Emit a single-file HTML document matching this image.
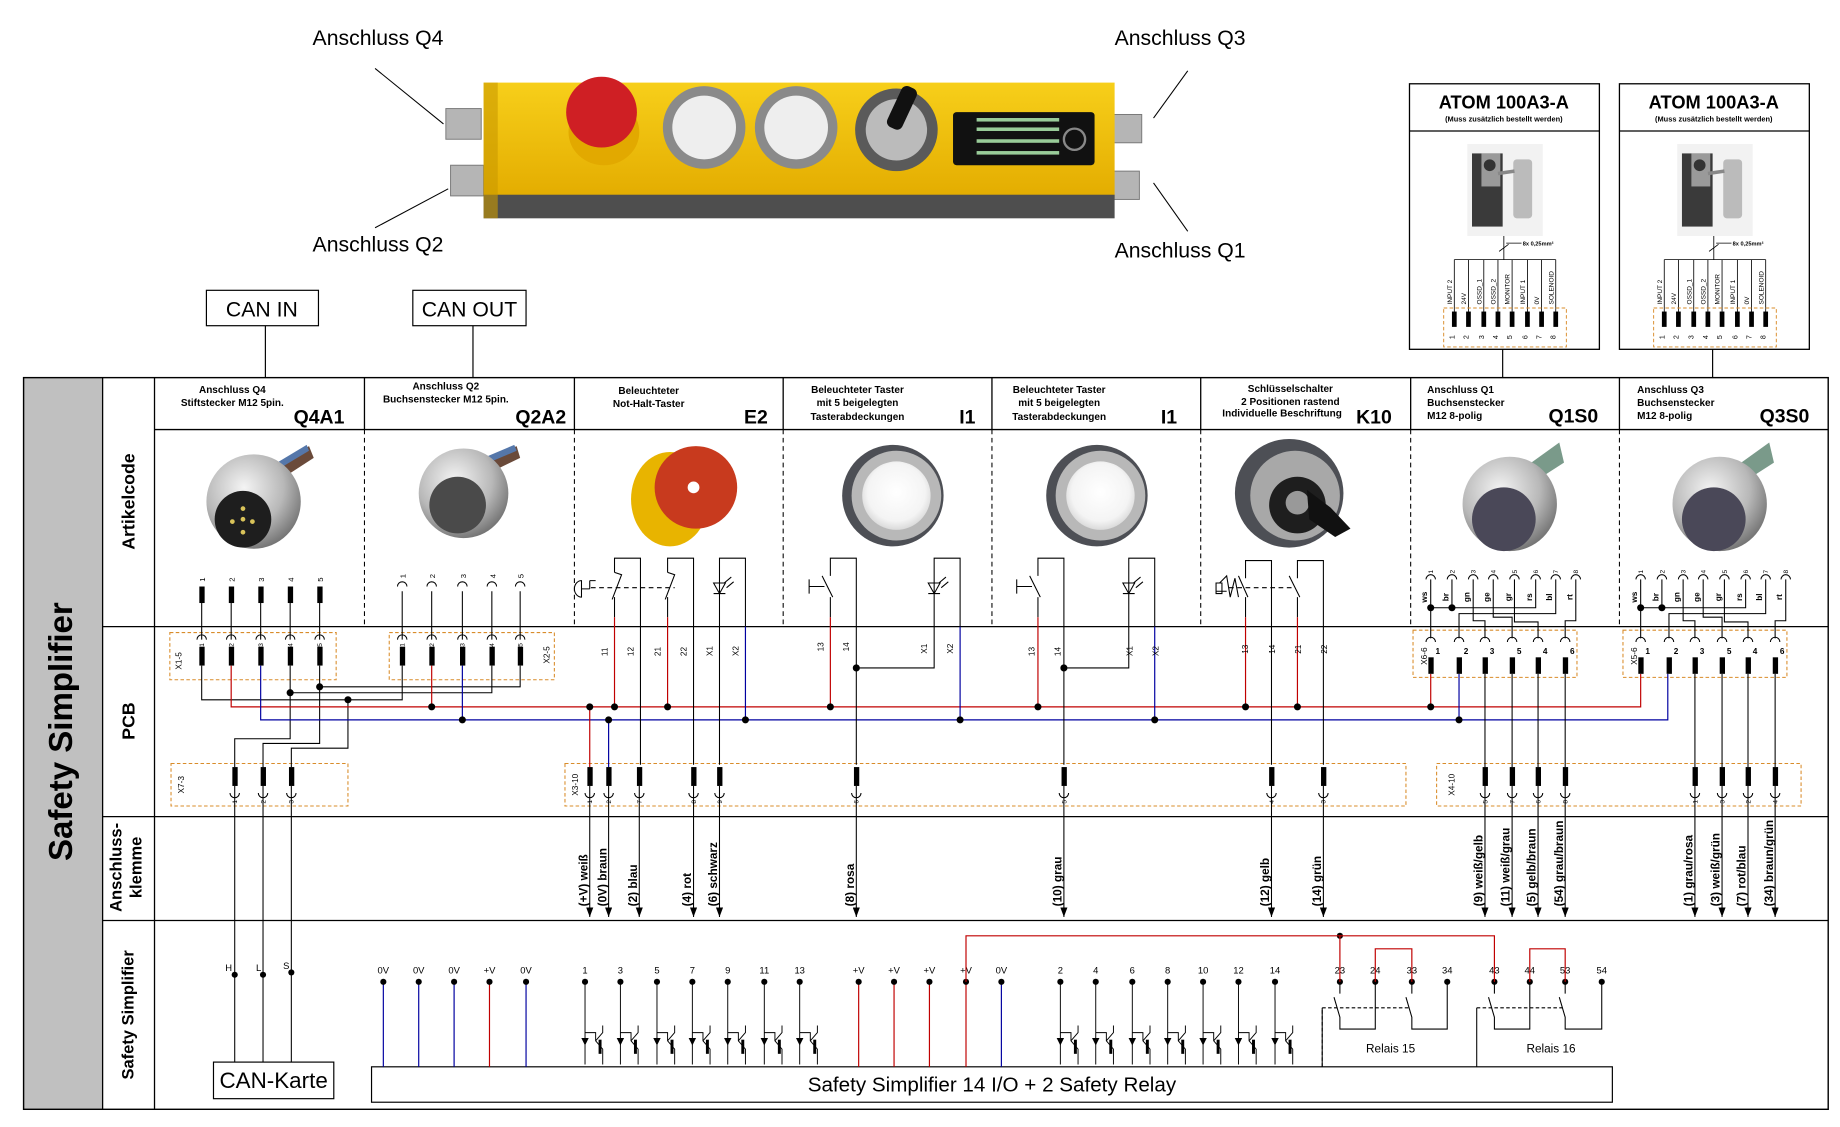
<!DOCTYPE html>
<html><head><meta charset="utf-8"><style>
html,body{margin:0;padding:0;background:#fff}
svg{display:block}
text{font-family:"Liberation Sans",Arial,sans-serif}
</style></head><body>
<svg width="1840" height="1127" viewBox="0 0 1560 955" preserveAspectRatio="none" xmlns="http://www.w3.org/2000/svg">
<defs>
<radialGradient id="silver" cx="40%" cy="35%" r="70%"><stop offset="0" stop-color="#f4f4f4"/><stop offset="0.6" stop-color="#b8b8b8"/><stop offset="1" stop-color="#6e6e6e"/></radialGradient>
<radialGradient id="whiteb" cx="50%" cy="45%" r="60%"><stop offset="0" stop-color="#fff"/><stop offset="0.7" stop-color="#f4f4f4"/><stop offset="1" stop-color="#d0d0d0"/></radialGradient>
<linearGradient id="yel" x1="0" y1="0" x2="0" y2="1"><stop offset="0" stop-color="#f7cf1a"/><stop offset="1" stop-color="#e3ac00"/></linearGradient>
<marker id="ar" markerWidth="6" markerHeight="8" refX="3" refY="8" orient="0" markerUnits="userSpaceOnUse"><path d="M0,0 L6,0 L3,8 Z" fill="#000"/></marker>
<g id="tr" fill="none" stroke="#000" stroke-width="0.8">
<path d="M0,828 V898 M0,871 H9 V878 L15,885 V898 M9,878 L15,871 V865"/>
<path d="M-2.5,876 L2.5,876 L0,881 Z" fill="#000"/>
<rect x="11.5" y="877" width="2.5" height="12" fill="#000" stroke="none"/>
</g>
<path id="skd" d="M-4,0 A4,4 0 0 1 4,0" fill="none" stroke="#000" stroke-width="0.9"/>
</defs>

<g font-size="18" fill="#000">
<text x="265" y="38">Anschluss Q4</text>
<text x="265" y="213">Anschluss Q2</text>
<text x="945" y="38">Anschluss Q3</text>
<text x="945" y="218">Anschluss Q1</text>
</g>
<g stroke="#000" stroke-width="0.9">
<line x1="318" y1="58" x2="376" y2="105"/>
<line x1="318" y1="193" x2="380" y2="160"/>
<line x1="1007" y1="60" x2="978" y2="100"/>
<line x1="1007" y1="196" x2="978" y2="155"/>
</g>
<rect x="378" y="92" width="30" height="26" fill="#b5b5b5" stroke="#777" stroke-width="0.8"/>
<rect x="382" y="140" width="28" height="26" fill="#b5b5b5" stroke="#777" stroke-width="0.8"/>
<rect x="940" y="97" width="28" height="24" fill="#b5b5b5" stroke="#777" stroke-width="0.8"/>
<rect x="940" y="145" width="26" height="24" fill="#b5b5b5" stroke="#777" stroke-width="0.8"/>
<rect x="410" y="70" width="535" height="98" fill="url(#yel)"/>
<rect x="410" y="165" width="535" height="20" fill="#4e4e4e"/>
<rect x="410" y="70" width="12" height="115" fill="#c99a00" opacity="0.6"/>
<ellipse cx="512" cy="112" rx="30" ry="28" fill="#e2a900"/>
<circle cx="510" cy="95" r="30" fill="#cf1f24"/>
<circle cx="597" cy="108" r="35" fill="#8a8a8a"/><circle cx="597" cy="108" r="27" fill="#eee"/>
<circle cx="675" cy="108" r="35" fill="#8a8a8a"/><circle cx="675" cy="108" r="27" fill="#eee"/>
<circle cx="760" cy="110" r="35" fill="#5a5a5a"/><circle cx="760" cy="110" r="26" fill="#bbb"/>
<rect x="756" y="72" width="14" height="38" rx="5" fill="#111" transform="rotate(25 763 95)"/>
<rect x="808" y="95" width="120" height="45" rx="3" fill="#111"/>
<g fill="#9c9"><rect x="828" y="100" width="70" height="3"/><rect x="828" y="108" width="70" height="3"/><rect x="828" y="118" width="70" height="3"/><rect x="828" y="128" width="70" height="3"/></g>
<circle cx="911" cy="118" r="9" fill="none" stroke="#888" stroke-width="2"/>

<rect x="175" y="246" width="95" height="30" fill="#fff" stroke="#000"/>
<text x="222" y="268" font-size="18" text-anchor="middle">CAN IN</text>
<rect x="350" y="246" width="96" height="30" fill="#fff" stroke="#000"/>
<text x="398" y="268" font-size="18" text-anchor="middle">CAN OUT</text>
<line x1="225" y1="276" x2="225" y2="320" stroke="#000"/>
<line x1="401" y1="276" x2="401" y2="320" stroke="#000"/>

<g id="atom">
<rect x="1195" y="71" width="161" height="225" fill="#fff" stroke="#000" stroke-width="1.1"/>
<line x1="1195" y1="111" x2="1356" y2="111" stroke="#000"/>
<text x="1275" y="92" font-size="15.5" font-weight="bold" text-anchor="middle">ATOM 100A3-A</text>
<text x="1275" y="103" font-size="6.3" font-weight="bold" text-anchor="middle">(Muss zusätzlich bestellt werden)</text>
<rect x="1244" y="122" width="64" height="78" fill="#f2f2f2"/>
<rect x="1248" y="130" width="26" height="62" fill="#3a3a3a"/>
<rect x="1256" y="130" width="16" height="28" fill="#9a9a9a"/>
<circle cx="1263" cy="140" r="5" fill="#333"/>
<rect x="1283" y="135" width="16" height="50" rx="3" fill="#bbb"/>
<line x1="1270" y1="147" x2="1284" y2="145" stroke="#888" stroke-width="3"/>
<path d="M1275,200 V220 M1271,213 L1279,207 M1277,206 H1290" fill="none" stroke="#000" stroke-width="0.7"/>
<text x="1291" y="208" font-size="4.8" font-weight="bold">8x 0,25mm²</text>
<g fill="none" stroke="#000" stroke-width="0.7">
<path d="M1233,220 H1319 M1233,220 V265 M1245,220 V265 M1258,220 V265 M1270,220 V265 M1282,220 V265 M1295,220 V265 M1307,220 V265 M1319,220 V265"/>
</g>
<rect x="1224" y="261" width="104" height="33" fill="none" stroke="#d98c2a" stroke-width="0.8" stroke-dasharray="3,2"/>
<g fill="#000"><rect x="1231" y="264" width="4" height="13"/><rect x="1243" y="264" width="4" height="13"/><rect x="1256" y="264" width="4" height="13"/><rect x="1268" y="264" width="4" height="13"/><rect x="1280" y="264" width="4" height="13"/><rect x="1293" y="264" width="4" height="13"/><rect x="1305" y="264" width="4" height="13"/><rect x="1317" y="264" width="4" height="13"/></g>
<g font-size="6" fill="#000">
<text transform="translate(1233,284) rotate(-90)" text-anchor="end">1</text><text transform="translate(1245,284) rotate(-90)" text-anchor="end">2</text><text transform="translate(1258,284) rotate(-90)" text-anchor="end">3</text><text transform="translate(1270,284) rotate(-90)" text-anchor="end">4</text><text transform="translate(1282,284) rotate(-90)" text-anchor="end">5</text><text transform="translate(1295,284) rotate(-90)" text-anchor="end">6</text><text transform="translate(1307,284) rotate(-90)" text-anchor="end">7</text><text transform="translate(1319,284) rotate(-90)" text-anchor="end">8</text>
</g>
<g font-size="5.5" fill="#000">
<text transform="translate(1231,258) rotate(-90)">INPUT 2</text><text transform="translate(1243,258) rotate(-90)">24V</text><text transform="translate(1256,258) rotate(-90)">OSSD_1</text><text transform="translate(1268,258) rotate(-90)">OSSD_2</text><text transform="translate(1280,258) rotate(-90)">MONITOR</text><text transform="translate(1293,258) rotate(-90)">INPUT 1</text><text transform="translate(1305,258) rotate(-90)">0V</text><text transform="translate(1317,258) rotate(-90)">SOLENOID</text>
</g>
<line x1="1274" y1="296" x2="1274" y2="320" stroke="#000"/>
</g>
<g transform="translate(178,0)">
<rect x="1195" y="71" width="161" height="225" fill="#fff" stroke="#000" stroke-width="1.1"/>
<line x1="1195" y1="111" x2="1356" y2="111" stroke="#000"/>
<text x="1275" y="92" font-size="15.5" font-weight="bold" text-anchor="middle">ATOM 100A3-A</text>
<text x="1275" y="103" font-size="6.3" font-weight="bold" text-anchor="middle">(Muss zusätzlich bestellt werden)</text>
<rect x="1244" y="122" width="64" height="78" fill="#f2f2f2"/>
<rect x="1248" y="130" width="26" height="62" fill="#3a3a3a"/>
<rect x="1256" y="130" width="16" height="28" fill="#9a9a9a"/>
<circle cx="1263" cy="140" r="5" fill="#333"/>
<rect x="1283" y="135" width="16" height="50" rx="3" fill="#bbb"/>
<line x1="1270" y1="147" x2="1284" y2="145" stroke="#888" stroke-width="3"/>
<path d="M1275,200 V220 M1271,213 L1279,207 M1277,206 H1290" fill="none" stroke="#000" stroke-width="0.7"/>
<text x="1291" y="208" font-size="4.8" font-weight="bold">8x 0,25mm²</text>
<g fill="none" stroke="#000" stroke-width="0.7">
<path d="M1233,220 H1319 M1233,220 V265 M1245,220 V265 M1258,220 V265 M1270,220 V265 M1282,220 V265 M1295,220 V265 M1307,220 V265 M1319,220 V265"/>
</g>
<rect x="1224" y="261" width="104" height="33" fill="none" stroke="#d98c2a" stroke-width="0.8" stroke-dasharray="3,2"/>
<g fill="#000"><rect x="1231" y="264" width="4" height="13"/><rect x="1243" y="264" width="4" height="13"/><rect x="1256" y="264" width="4" height="13"/><rect x="1268" y="264" width="4" height="13"/><rect x="1280" y="264" width="4" height="13"/><rect x="1293" y="264" width="4" height="13"/><rect x="1305" y="264" width="4" height="13"/><rect x="1317" y="264" width="4" height="13"/></g>
<g font-size="6" fill="#000">
<text transform="translate(1233,284) rotate(-90)" text-anchor="end">1</text><text transform="translate(1245,284) rotate(-90)" text-anchor="end">2</text><text transform="translate(1258,284) rotate(-90)" text-anchor="end">3</text><text transform="translate(1270,284) rotate(-90)" text-anchor="end">4</text><text transform="translate(1282,284) rotate(-90)" text-anchor="end">5</text><text transform="translate(1295,284) rotate(-90)" text-anchor="end">6</text><text transform="translate(1307,284) rotate(-90)" text-anchor="end">7</text><text transform="translate(1319,284) rotate(-90)" text-anchor="end">8</text>
</g>
<g font-size="5.5" fill="#000">
<text transform="translate(1231,258) rotate(-90)">INPUT 2</text><text transform="translate(1243,258) rotate(-90)">24V</text><text transform="translate(1256,258) rotate(-90)">OSSD_1</text><text transform="translate(1268,258) rotate(-90)">OSSD_2</text><text transform="translate(1280,258) rotate(-90)">MONITOR</text><text transform="translate(1293,258) rotate(-90)">INPUT 1</text><text transform="translate(1305,258) rotate(-90)">0V</text><text transform="translate(1317,258) rotate(-90)">SOLENOID</text>
</g>
<line x1="1274" y1="296" x2="1274" y2="320" stroke="#000"/>
</g>

<rect x="20" y="320" width="67" height="620" fill="#c0c0c0"/>
<rect x="20" y="320" width="1530" height="620" fill="none" stroke="#000" stroke-width="1.2"/>
<g stroke="#000" stroke-width="1.1">
<line x1="87" y1="320" x2="87" y2="940"/><line x1="131" y1="320" x2="131" y2="940"/>
<line x1="131" y1="364" x2="1550" y2="364"/>
<line x1="87" y1="531" x2="1550" y2="531"/>
<line x1="87" y1="692" x2="1550" y2="692"/>
<line x1="87" y1="780" x2="1550" y2="780"/>
<path d="M309,320 V364 M487,320 V364 M664,320 V364 M841,320 V364 M1018,320 V364 M1196,320 V364 M1373,320 V364"/>
</g>
<g stroke="#000" stroke-width="0.9" stroke-dasharray="4,3">
<path d="M309,364 V531 M487,364 V531 M664,364 V531 M841,364 V531 M1018,364 V531 M1196,364 V531 M1373,364 V531"/>
</g>
<text transform="translate(61,620) rotate(-90)" font-size="28" font-weight="bold" text-anchor="middle">Safety Simplifier</text>
<g font-weight="bold" text-anchor="middle">
<text transform="translate(114,425) rotate(-90)" font-size="15">Artikelcode</text>
<text transform="translate(114,611) rotate(-90)" font-size="15">PCB</text>
<text transform="translate(103,735) rotate(-90)" font-size="14">Anschluss-</text>
<text transform="translate(120,735) rotate(-90)" font-size="14">klemme</text>
<text transform="translate(113,860) rotate(-90)" font-size="14">Safety Simplifier</text>
</g>

<g font-size="8.5" font-weight="bold" text-anchor="middle">
<text x="197" y="333">Anschluss Q4</text><text x="197" y="344">Stiftstecker M12 5pin.</text>
<text x="378" y="330">Anschluss Q2</text><text x="378" y="341">Buchsenstecker M12 5pin.</text>
<text x="550" y="334">Beleuchteter</text><text x="550" y="345">Not-Halt-Taster</text>
<text x="727" y="333">Beleuchteter Taster</text><text x="727" y="344">mit 5 beigelegten</text><text x="727" y="356">Tasterabdeckungen</text>
<text x="898" y="333">Beleuchteter Taster</text><text x="898" y="344">mit 5 beigelegten</text><text x="898" y="356">Tasterabdeckungen</text>
<text x="1094" y="332">Schlüsselschalter</text><text x="1094" y="343">2 Positionen rastend</text><text x="1087" y="353">Individuelle Beschriftung</text>
</g>
<g font-size="8.5" font-weight="bold">
<text x="1210" y="333">Anschluss Q1</text><text x="1210" y="344">Buchsenstecker</text><text x="1210" y="355">M12 8-polig</text>
<text x="1388" y="333">Anschluss Q3</text><text x="1388" y="344">Buchsenstecker</text><text x="1388" y="355">M12 8-polig</text>
</g>
<g font-size="16.5" font-weight="bold" text-anchor="end">
<text x="292" y="359">Q4A1</text><text x="480" y="359">Q2A2</text><text x="651" y="359">E2</text>
<text x="827" y="359">I1</text><text x="998" y="359">I1</text><text x="1180" y="359">K10</text>
<text x="1355" y="358">Q1S0</text><text x="1534" y="358">Q3S0</text>
</g>

<path d="M225,400 L262,378 L266,388 L232,410 Z" fill="#6a4a3a"/><path d="M230,395 L260,377 L262,382 L232,400 Z" fill="#5577aa"/>
<circle cx="215" cy="425" r="40" fill="url(#silver)"/><circle cx="206" cy="440" r="24" fill="#1e1e1e"/>
<g fill="#d9c35a"><circle cx="206" cy="440" r="2"/><circle cx="197" cy="442" r="2"/><circle cx="214" cy="442" r="2"/><circle cx="206" cy="431" r="2"/><circle cx="206" cy="451" r="2"/></g>
<path d="M405,393 L438,378 L441,388 L410,403 Z" fill="#6a4a3a"/><path d="M410,388 L436,377 L438,382 L412,393 Z" fill="#5577aa"/>
<circle cx="393" cy="418" r="38" fill="url(#silver)"/><circle cx="388" cy="428" r="24" fill="#4a4a4a"/>
<ellipse cx="568" cy="423" rx="33" ry="40" fill="#e8b400"/><circle cx="590" cy="413" r="35" fill="#c83a1e"/><circle cx="588" cy="413" r="5" fill="#fff"/>
<circle cx="757" cy="420" r="43" fill="#4d4f55"/><circle cx="760" cy="420" r="38" fill="#b8b8b8"/><circle cx="760" cy="420" r="29" fill="url(#whiteb)"/>
<circle cx="930" cy="420" r="43" fill="#4d4f55"/><circle cx="933" cy="420" r="38" fill="#b8b8b8"/><circle cx="933" cy="420" r="29" fill="url(#whiteb)"/>
<circle cx="1093" cy="418" r="46" fill="#4d4f55"/><circle cx="1098" cy="420" r="38" fill="#a8a8a8"/><circle cx="1100" cy="428" r="24" fill="#1e1e1e"/><circle cx="1100" cy="426" r="10" fill="#999"/>
<path d="M1108,415 L1128,430 L1145,448 L1132,455 L1110,440 Z" fill="#111"/>
<path d="M1290,398 L1322,375 L1326,392 L1298,410 Z" fill="#7a9a8a"/>
<circle cx="1280" cy="427" r="40" fill="url(#silver)"/><circle cx="1275" cy="440" r="27" fill="#4a4858"/>
<path d="M1468,398 L1500,375 L1504,392 L1476,410 Z" fill="#7a9a8a"/>
<circle cx="1458" cy="427" r="40" fill="url(#silver)"/><circle cx="1453" cy="440" r="27" fill="#4a4858"/>

<g font-size="6.5">
<text transform="translate(174,493) rotate(-90)">1</text><text transform="translate(199,493) rotate(-90)">2</text><text transform="translate(224,493) rotate(-90)">3</text><text transform="translate(249,493) rotate(-90)">4</text><text transform="translate(274,493) rotate(-90)">5</text>
<text transform="translate(344,490) rotate(-90)">1</text><text transform="translate(369,490) rotate(-90)">2</text><text transform="translate(395,490) rotate(-90)">3</text><text transform="translate(420,490) rotate(-90)">4</text><text transform="translate(444,490) rotate(-90)">5</text>
</g>
<g fill="#000"><rect x="169" y="497" width="4.5" height="14"/><rect x="194" y="497" width="4.5" height="14"/><rect x="219" y="497" width="4.5" height="14"/><rect x="244" y="497" width="4.5" height="14"/><rect x="269" y="497" width="4.5" height="14"/></g>
<use href="#skd" x="341" y="497"/><use href="#skd" x="366" y="497"/><use href="#skd" x="392" y="497"/><use href="#skd" x="417" y="497"/><use href="#skd" x="441" y="497"/>

<g fill="none" stroke="#d98c2a" stroke-width="0.9" stroke-dasharray="3,2">
<rect x="144" y="536" width="141" height="40"/><rect x="330" y="536" width="140" height="40"/>
<rect x="145" y="647" width="150" height="36"/><rect x="479" y="647" width="713" height="36"/>
<rect x="1198" y="534" width="139" height="40"/><rect x="1376" y="534" width="139" height="40"/>
<rect x="1218" y="647" width="309" height="36"/>
</g>
<g font-size="7">
<text transform="translate(154,560) rotate(-90)" text-anchor="middle">X1-5</text>
<text transform="translate(466,555) rotate(-90)" text-anchor="middle">X2-5</text>
<text transform="translate(156,665) rotate(-90)" text-anchor="middle">X7-3</text>
<text transform="translate(490,665) rotate(-90)" text-anchor="middle">X3-10</text>
<text transform="translate(1210,556) rotate(-90)" text-anchor="middle">X6-6</text>
<text transform="translate(1388,556) rotate(-90)" text-anchor="middle">X5-6</text>
<text transform="translate(1233,665) rotate(-90)" text-anchor="middle">X4-10</text>
</g>
<g>
<use href="#skd" x="171" y="542"/><use href="#skd" x="196" y="542"/><use href="#skd" x="221" y="542"/><use href="#skd" x="246" y="542"/><use href="#skd" x="271" y="542"/>
<use href="#skd" x="341" y="542"/><use href="#skd" x="366" y="542"/><use href="#skd" x="392" y="542"/><use href="#skd" x="417" y="542"/><use href="#skd" x="441" y="542"/>
</g>
<g fill="#000">
<rect x="169" y="548" width="4.5" height="16"/><rect x="194" y="548" width="4.5" height="16"/><rect x="219" y="548" width="4.5" height="16"/><rect x="244" y="548" width="4.5" height="16"/><rect x="269" y="548" width="4.5" height="16"/>
<rect x="339" y="548" width="4.5" height="16"/><rect x="364" y="548" width="4.5" height="16"/><rect x="390" y="548" width="4.5" height="16"/><rect x="415" y="548" width="4.5" height="16"/><rect x="439" y="548" width="4.5" height="16"/>
</g>
<g font-size="5.5">
<text transform="translate(173,548) rotate(-90)">1</text><text transform="translate(198,548) rotate(-90)">2</text><text transform="translate(223,548) rotate(-90)">3</text><text transform="translate(248,548) rotate(-90)">4</text><text transform="translate(273,548) rotate(-90)">5</text>
<text transform="translate(343,548) rotate(-90)">1</text><text transform="translate(368,548) rotate(-90)">2</text><text transform="translate(394,548) rotate(-90)">3</text><text transform="translate(419,548) rotate(-90)">4</text><text transform="translate(443,548) rotate(-90)">5</text>
</g>

<g fill="none" stroke="#000" stroke-width="0.9">
<path d="M171,511 V542 M196,511 V542 M221,511 V542 M246,511 V542 M271,511 V542"/>
<path d="M341,501 V542 M366,501 V542 M392,501 V542 M417,501 V542 M441,501 V542"/>
<path d="M171,564 V593 H341 V564"/>
<path d="M246,564 V587 H417 V564"/>
<path d="M271,564 V582 H441 V564"/>
<path d="M295,593 V634 H247 V650"/>
<path d="M246,587 V626 H199 V650"/>
<path d="M271,582 V630 H223 V650"/>
</g>
<path d="M196,564 V599 H1391 V571" fill="none" stroke="#c00000" stroke-width="1"/>
<path d="M366,564 V599" stroke="#c00000" stroke-width="1"/>
<path d="M221,564 V610 H1414 V571" fill="none" stroke="#0000a0" stroke-width="1"/>
<path d="M392,564 V610" stroke="#0000a0" stroke-width="1"/>

<g fill="none" stroke="#000" stroke-width="0.9">
<path d="M521,485 V473 H543 V648"/>
<path d="M521,485 L527,487 L519,508 M521,506 V523"/>
<path d="M566,485 V473 H588 V648"/>
<path d="M566,485 L572,487 L564,508 M566,506 V523"/>
<path d="M501,498 H572" stroke-dasharray="4,3"/>
<path d="M493,492 A6,7 0 0 0 493,506 Z M493,499 H500 M500,492 V499 M500,492 H505"/>
<path d="M610,648 V473 H632 V531"/>
<path d="M605,494 H615 L610,503 Z M605,503 H615 M614,494 L620,489 M616,498 L622,493"/>
<path d="M704,488 V473 H726 V648"/>
<path d="M697,488 L706,506 M704,506 V523 M686,497 H699 M686,491 V503"/>
<path d="M726,566 H792 V473 H814 V531"/>
<path d="M787,494 H797 L792,503 Z M787,503 H797 M796,494 L802,489 M798,498 L804,493"/>
<path d="M880,488 V473 H902 V648"/>
<path d="M873,488 L882,506 M880,506 V523 M862,497 H875 M862,491 V503"/>
<path d="M902,566 H957 V473 H979 V531"/>
<path d="M952,494 H962 L957,503 Z M952,503 H962 M961,494 L967,489 M963,498 L969,493"/>
<path d="M1056,490 V475 H1078 V648"/>
<path d="M1050,488 L1058,506 M1056,506 V523"/>
<path d="M1100,490 V475 H1122 V648"/>
<path d="M1093,488 L1102,506 M1100,506 V523"/>
<path d="M1042,498 H1097" stroke-dasharray="4,3"/>
<path d="M1034,494 L1040,488 L1043,506 L1047,490 L1050,506"/>
<path d="M1031,503 V494 H1036 V503 Z M1031,501 H1040"/>
</g>
<g stroke="#c00000" stroke-width="1" fill="none">
<path d="M521,523 V599 M566,523 V599 M704,523 V599 M880,523 V599 M1056,523 V599 M1100,523 V599 M500,599 V650 M1213,571 V599"/>
</g>
<g stroke="#0000a0" stroke-width="1" fill="none">
<path d="M632,531 V610 M814,531 V610 M979,531 V610 M516,610 V650 M1237,571 V610"/>
</g>
<g font-size="7">
<text transform="translate(515,556) rotate(-90)">11</text><text transform="translate(537,556) rotate(-90)">12</text><text transform="translate(560,556) rotate(-90)">21</text><text transform="translate(582,556) rotate(-90)">22</text><text transform="translate(604,556) rotate(-90)">X1</text><text transform="translate(626,556) rotate(-90)">X2</text>
<text transform="translate(698,552) rotate(-90)">13</text><text transform="translate(720,552) rotate(-90)">14</text><text transform="translate(786,554) rotate(-90)">X1</text><text transform="translate(808,554) rotate(-90)">X2</text>
<text transform="translate(877,556) rotate(-90)">13</text><text transform="translate(899,556) rotate(-90)">14</text><text transform="translate(960,556) rotate(-90)">X1</text><text transform="translate(982,556) rotate(-90)">X2</text>
<text transform="translate(1058,554) rotate(-90)">13</text><text transform="translate(1081,554) rotate(-90)">14</text><text transform="translate(1103,554) rotate(-90)">21</text><text transform="translate(1125,554) rotate(-90)">22</text>
</g>

<g id="q1">
<g font-size="5.5"><text transform="translate(1215,486) rotate(-90)">1</text><text transform="translate(1233,486) rotate(-90)">2</text><text transform="translate(1251,486) rotate(-90)">3</text><text transform="translate(1268,486) rotate(-90)">4</text><text transform="translate(1286,486) rotate(-90)">5</text><text transform="translate(1304,486) rotate(-90)">6</text><text transform="translate(1321,486) rotate(-90)">7</text><text transform="translate(1338,486) rotate(-90)">8</text></g>
<use href="#skd" x="1213" y="491"/><use href="#skd" x="1231" y="491"/><use href="#skd" x="1249" y="491"/><use href="#skd" x="1266" y="491"/><use href="#skd" x="1284" y="491"/><use href="#skd" x="1302" y="491"/><use href="#skd" x="1319" y="491"/><use href="#skd" x="1336" y="491"/>
<g font-size="7" font-weight="bold"><text transform="translate(1210,506) rotate(-90)" text-anchor="middle">ws</text><text transform="translate(1228,506) rotate(-90)" text-anchor="middle">br</text><text transform="translate(1246,506) rotate(-90)" text-anchor="middle">gn</text><text transform="translate(1263,506) rotate(-90)" text-anchor="middle">ge</text><text transform="translate(1281,506) rotate(-90)" text-anchor="middle">gr</text><text transform="translate(1299,506) rotate(-90)" text-anchor="middle">rs</text><text transform="translate(1316,506) rotate(-90)" text-anchor="middle">bl</text><text transform="translate(1333,506) rotate(-90)" text-anchor="middle">rt</text></g>
<g fill="none" stroke="#000" stroke-width="0.9">
<path d="M1213,491 V541 M1231,491 V515 M1302,491 V515 H1213 M1319,491 V520 H1237 V541 M1249,491 V526 H1259 V541 M1266,491 V523 H1282 V541 M1284,491 V527 H1304 V541 M1336,491 V526 H1327 V541"/>
</g>
<circle cx="1213" cy="515" r="3"/><circle cx="1231" cy="515" r="3"/>
<use href="#skd" x="1213" y="544"/><use href="#skd" x="1237" y="544"/><use href="#skd" x="1259" y="544"/><use href="#skd" x="1282" y="544"/><use href="#skd" x="1304" y="544"/><use href="#skd" x="1327" y="544"/>
<g font-size="7" font-weight="bold" text-anchor="middle"><text x="1219" y="554">1</text><text x="1243" y="554">2</text><text x="1265" y="554">3</text><text x="1288" y="554">5</text><text x="1310" y="554">4</text><text x="1333" y="554">6</text></g>
<g fill="#000"><rect x="1211" y="557" width="4.5" height="14"/><rect x="1235" y="557" width="4.5" height="14"/><rect x="1257" y="557" width="4.5" height="14"/><rect x="1280" y="557" width="4.5" height="14"/><rect x="1302" y="557" width="4.5" height="14"/><rect x="1325" y="557" width="4.5" height="14"/></g>
</g>
<use href="#q1" x="178"/>
<g fill="none" stroke="#000" stroke-width="0.9">
<path d="M1259,571 V650 M1282,571 V650 M1304,571 V650 M1327,571 V650 M1437,571 V650 M1460,571 V650 M1482,571 V650 M1505,571 V650"/>
</g>

<g fill="#000">
<circle cx="246" cy="587" r="3"/><circle cx="271" cy="582" r="3"/><circle cx="295" cy="593" r="3"/>
<circle cx="366" cy="599" r="3"/><circle cx="392" cy="610" r="3"/>
<circle cx="500" cy="599" r="3"/><circle cx="521" cy="599" r="3"/><circle cx="566" cy="599" r="3"/><circle cx="704" cy="599" r="3"/><circle cx="880" cy="599" r="3"/><circle cx="1056" cy="599" r="3"/><circle cx="1100" cy="599" r="3"/><circle cx="1213" cy="599" r="3"/>
<circle cx="516" cy="610" r="3"/><circle cx="632" cy="610" r="3"/><circle cx="814" cy="610" r="3"/><circle cx="979" cy="610" r="3"/><circle cx="1237" cy="610" r="3"/>
<circle cx="726" cy="566" r="3"/><circle cx="902" cy="566" r="3"/>
</g>

<g fill="#000">
<rect x="197" y="650" width="4.5" height="16"/><rect x="221" y="650" width="4.5" height="16"/><rect x="245" y="650" width="4.5" height="16"/>
<rect x="498" y="650" width="4.5" height="16"/><rect x="514" y="650" width="4.5" height="16"/><rect x="540" y="650" width="4.5" height="16"/><rect x="586" y="650" width="4.5" height="16"/><rect x="608" y="650" width="4.5" height="16"/><rect x="724" y="650" width="4.5" height="16"/><rect x="900" y="650" width="4.5" height="16"/><rect x="1076" y="650" width="4.5" height="16"/><rect x="1120" y="650" width="4.5" height="16"/>
<rect x="1257" y="650" width="4.5" height="16"/><rect x="1280" y="650" width="4.5" height="16"/><rect x="1302" y="650" width="4.5" height="16"/><rect x="1325" y="650" width="4.5" height="16"/>
<rect x="1435" y="650" width="4.5" height="16"/><rect x="1458" y="650" width="4.5" height="16"/><rect x="1480" y="650" width="4.5" height="16"/><rect x="1503" y="650" width="4.5" height="16"/>
</g>
<g fill="none" stroke="#000" stroke-width="0.9">
<path d="M195,672 A4,4 0 0 0 203,672 M219,672 A4,4 0 0 0 227,672 M243,672 A4,4 0 0 0 251,672"/>
<path d="M496,672 A4,4 0 0 0 504,672 M512,672 A4,4 0 0 0 520,672 M538,672 A4,4 0 0 0 546,672 M584,672 A4,4 0 0 0 592,672 M606,672 A4,4 0 0 0 614,672 M722,672 A4,4 0 0 0 730,672 M898,672 A4,4 0 0 0 906,672 M1074,672 A4,4 0 0 0 1082,672 M1118,672 A4,4 0 0 0 1126,672"/>
<path d="M1255,672 A4,4 0 0 0 1263,672 M1278,672 A4,4 0 0 0 1286,672 M1300,672 A4,4 0 0 0 1308,672 M1323,672 A4,4 0 0 0 1331,672 M1433,672 A4,4 0 0 0 1441,672 M1456,672 A4,4 0 0 0 1464,672 M1478,672 A4,4 0 0 0 1486,672 M1501,672 A4,4 0 0 0 1509,672"/>
</g>
<g font-size="5.5">
<text transform="translate(201,681) rotate(-90)">1</text><text transform="translate(225,681) rotate(-90)">2</text><text transform="translate(249,681) rotate(-90)">3</text>
<text transform="translate(502,681) rotate(-90)">1</text><text transform="translate(518,681) rotate(-90)">2</text><text transform="translate(544,681) rotate(-90)">7</text><text transform="translate(590,681) rotate(-90)">8</text><text transform="translate(612,681) rotate(-90)">9</text><text transform="translate(728,681) rotate(-90)">6</text><text transform="translate(904,681) rotate(-90)">5</text><text transform="translate(1080,681) rotate(-90)">4</text><text transform="translate(1124,681) rotate(-90)">3</text>
<text transform="translate(1261,681) rotate(-90)">5</text><text transform="translate(1284,681) rotate(-90)">7</text><text transform="translate(1306,681) rotate(-90)">6</text><text transform="translate(1329,681) rotate(-90)">8</text>
<text transform="translate(1439,681) rotate(-90)">1</text><text transform="translate(1462,681) rotate(-90)">3</text><text transform="translate(1484,681) rotate(-90)">2</text><text transform="translate(1507,681) rotate(-90)">4</text>
</g>

<g stroke="#000" stroke-width="0.9" marker-end="url(#ar)">
<line x1="500" y1="666" x2="500" y2="777"/><line x1="516" y1="666" x2="516" y2="777"/><line x1="542" y1="666" x2="542" y2="777"/><line x1="588" y1="666" x2="588" y2="777"/><line x1="610" y1="666" x2="610" y2="777"/><line x1="726" y1="666" x2="726" y2="777"/><line x1="902" y1="666" x2="902" y2="777"/><line x1="1078" y1="666" x2="1078" y2="777"/><line x1="1122" y1="666" x2="1122" y2="777"/>
<line x1="1259" y1="666" x2="1259" y2="777"/><line x1="1282" y1="666" x2="1282" y2="777"/><line x1="1304" y1="666" x2="1304" y2="777"/><line x1="1327" y1="666" x2="1327" y2="777"/>
<line x1="1437" y1="666" x2="1437" y2="777"/><line x1="1460" y1="666" x2="1460" y2="777"/><line x1="1482" y1="666" x2="1482" y2="777"/><line x1="1505" y1="666" x2="1505" y2="777"/>
</g>
<g font-size="10" font-weight="bold">
<text transform="translate(498,768) rotate(-90)">(+V) weiß</text><text transform="translate(514,768) rotate(-90)">(0V) braun</text><text transform="translate(540,768) rotate(-90)">(2) blau</text><text transform="translate(586,768) rotate(-90)">(4) rot</text><text transform="translate(608,768) rotate(-90)">(6) schwarz</text><text transform="translate(724,768) rotate(-90)">(8) rosa</text><text transform="translate(900,768) rotate(-90)">(10) grau</text><text transform="translate(1076,768) rotate(-90)">(12) gelb</text><text transform="translate(1120,768) rotate(-90)">(14) grün</text>
<text transform="translate(1257,768) rotate(-90)">(9) weiß/gelb</text><text transform="translate(1280,768) rotate(-90)">(11) weiß/grau</text><text transform="translate(1302,768) rotate(-90)">(5) gelb/braun</text><text transform="translate(1325,768) rotate(-90)">(54) grau/braun</text>
<text transform="translate(1435,768) rotate(-90)">(1)  grau/rosa</text><text transform="translate(1458,768) rotate(-90)">(3) weiß/grün</text><text transform="translate(1480,768) rotate(-90)">(7) rot/blau</text><text transform="translate(1503,768) rotate(-90)">(34) braun/grün</text>
</g>

<g stroke="#000" stroke-width="0.9"><line x1="199" y1="666" x2="199" y2="900"/><line x1="223" y1="666" x2="223" y2="900"/><line x1="247" y1="666" x2="247" y2="900"/></g>
<g fill="#000"><circle cx="199" cy="826" r="2.6"/><circle cx="223" cy="826" r="2.6"/><circle cx="247" cy="824" r="2.6"/></g>
<g font-size="8"><text x="191" y="823">H</text><text x="217" y="823">L</text><text x="240" y="821">S</text></g>
<rect x="181" y="900" width="102" height="31" fill="#fff" stroke="#000"/>
<text x="232" y="922" font-size="19" text-anchor="middle">CAN-Karte</text>

<rect x="315" y="904" width="1052" height="30" fill="#fff" stroke="#000"/>
<text x="841" y="925" font-size="17.5" text-anchor="middle">Safety Simplifier 14 I/O + 2 Safety Relay</text>
<g font-size="8" text-anchor="middle">
<text x="325" y="825">0V</text><text x="355" y="825">0V</text><text x="385" y="825">0V</text><text x="415" y="825">+V</text><text x="446" y="825">0V</text>
<text x="496" y="825">1</text><text x="526" y="825">3</text><text x="557" y="825">5</text><text x="587" y="825">7</text><text x="617" y="825">9</text><text x="648" y="825">11</text><text x="678" y="825">13</text>
<text x="728" y="825">+V</text><text x="758" y="825">+V</text><text x="788" y="825">+V</text><text x="819" y="825">+V</text><text x="849" y="825">0V</text>
<text x="899" y="825">2</text><text x="929" y="825">4</text><text x="960" y="825">6</text><text x="990" y="825">8</text><text x="1020" y="825">10</text><text x="1050" y="825">12</text><text x="1081" y="825">14</text>
<text x="1136" y="825">23</text><text x="1166" y="825">24</text><text x="1197" y="825">33</text><text x="1227" y="825">34</text><text x="1267" y="825">43</text><text x="1297" y="825">44</text><text x="1327" y="825">53</text><text x="1358" y="825">54</text>
</g>
<g stroke-width="1">
<line x1="325" y1="832" x2="325" y2="904" stroke="#0000a0"/><line x1="355" y1="832" x2="355" y2="904" stroke="#0000a0"/><line x1="385" y1="832" x2="385" y2="904" stroke="#0000a0"/><line x1="415" y1="832" x2="415" y2="904" stroke="#c00000"/><line x1="446" y1="832" x2="446" y2="904" stroke="#0000a0"/>
<line x1="728" y1="832" x2="728" y2="904" stroke="#c00000"/><line x1="758" y1="832" x2="758" y2="904" stroke="#c00000"/><line x1="788" y1="832" x2="788" y2="904" stroke="#c00000"/><line x1="819" y1="832" x2="819" y2="904" stroke="#c00000"/><line x1="849" y1="832" x2="849" y2="904" stroke="#0000a0"/>
</g>
<g fill="#000">
<circle cx="325" cy="832" r="2.6"/><circle cx="355" cy="832" r="2.6"/><circle cx="385" cy="832" r="2.6"/><circle cx="415" cy="832" r="2.6"/><circle cx="446" cy="832" r="2.6"/>
<circle cx="496" cy="832" r="2.6"/><circle cx="526" cy="832" r="2.6"/><circle cx="557" cy="832" r="2.6"/><circle cx="587" cy="832" r="2.6"/><circle cx="617" cy="832" r="2.6"/><circle cx="648" cy="832" r="2.6"/><circle cx="678" cy="832" r="2.6"/>
<circle cx="728" cy="832" r="2.6"/><circle cx="758" cy="832" r="2.6"/><circle cx="788" cy="832" r="2.6"/><circle cx="819" cy="832" r="2.6"/><circle cx="849" cy="832" r="2.6"/>
<circle cx="899" cy="832" r="2.6"/><circle cx="929" cy="832" r="2.6"/><circle cx="960" cy="832" r="2.6"/><circle cx="990" cy="832" r="2.6"/><circle cx="1020" cy="832" r="2.6"/><circle cx="1050" cy="832" r="2.6"/><circle cx="1081" cy="832" r="2.6"/>
<circle cx="1136" cy="832" r="2.6"/><circle cx="1166" cy="832" r="2.6"/><circle cx="1197" cy="832" r="2.6"/><circle cx="1227" cy="832" r="2.6"/><circle cx="1267" cy="832" r="2.6"/><circle cx="1297" cy="832" r="2.6"/><circle cx="1327" cy="832" r="2.6"/><circle cx="1358" cy="832" r="2.6"/>
<circle cx="1136" cy="793" r="2.6"/>
</g>
<g transform="translate(0,4)">
<use href="#tr" x="496"/><use href="#tr" x="526"/><use href="#tr" x="557"/><use href="#tr" x="587"/><use href="#tr" x="617"/><use href="#tr" x="648"/><use href="#tr" x="678"/>
<use href="#tr" x="899"/><use href="#tr" x="929"/><use href="#tr" x="960"/><use href="#tr" x="990"/><use href="#tr" x="1020"/><use href="#tr" x="1050"/><use href="#tr" x="1081"/>
</g>
<g fill="none" stroke="#c00000" stroke-width="1">
<path d="M819,832 V793 H1267 V832 M1136,793 V832"/>
<path d="M1166,832 V804 H1197 V832 M1297,832 V804 H1327 V832"/>
</g>
<g fill="none" stroke="#000" stroke-width="0.9">
<path d="M1136,832 V842 M1131,845 L1136,862 V872 H1166 V832"/>
<path d="M1197,832 V842 M1192,845 L1197,862 V872 H1227 V832"/>
<path d="M1121,904 V854 H1195" stroke-dasharray="3,2"/>
<path d="M1121,854 V904"/>
<path d="M1267,832 V842 M1262,845 L1267,862 V872 H1297 V832"/>
<path d="M1327,832 V842 M1322,845 L1327,862 V872 H1358 V832"/>
<path d="M1252,854 H1325" stroke-dasharray="3,2"/>
<path d="M1252,854 V904"/>
</g>
<text x="1179" y="892" font-size="10" text-anchor="middle">Relais 15</text>
<text x="1315" y="892" font-size="10" text-anchor="middle">Relais 16</text>
</svg>
</body></html>
